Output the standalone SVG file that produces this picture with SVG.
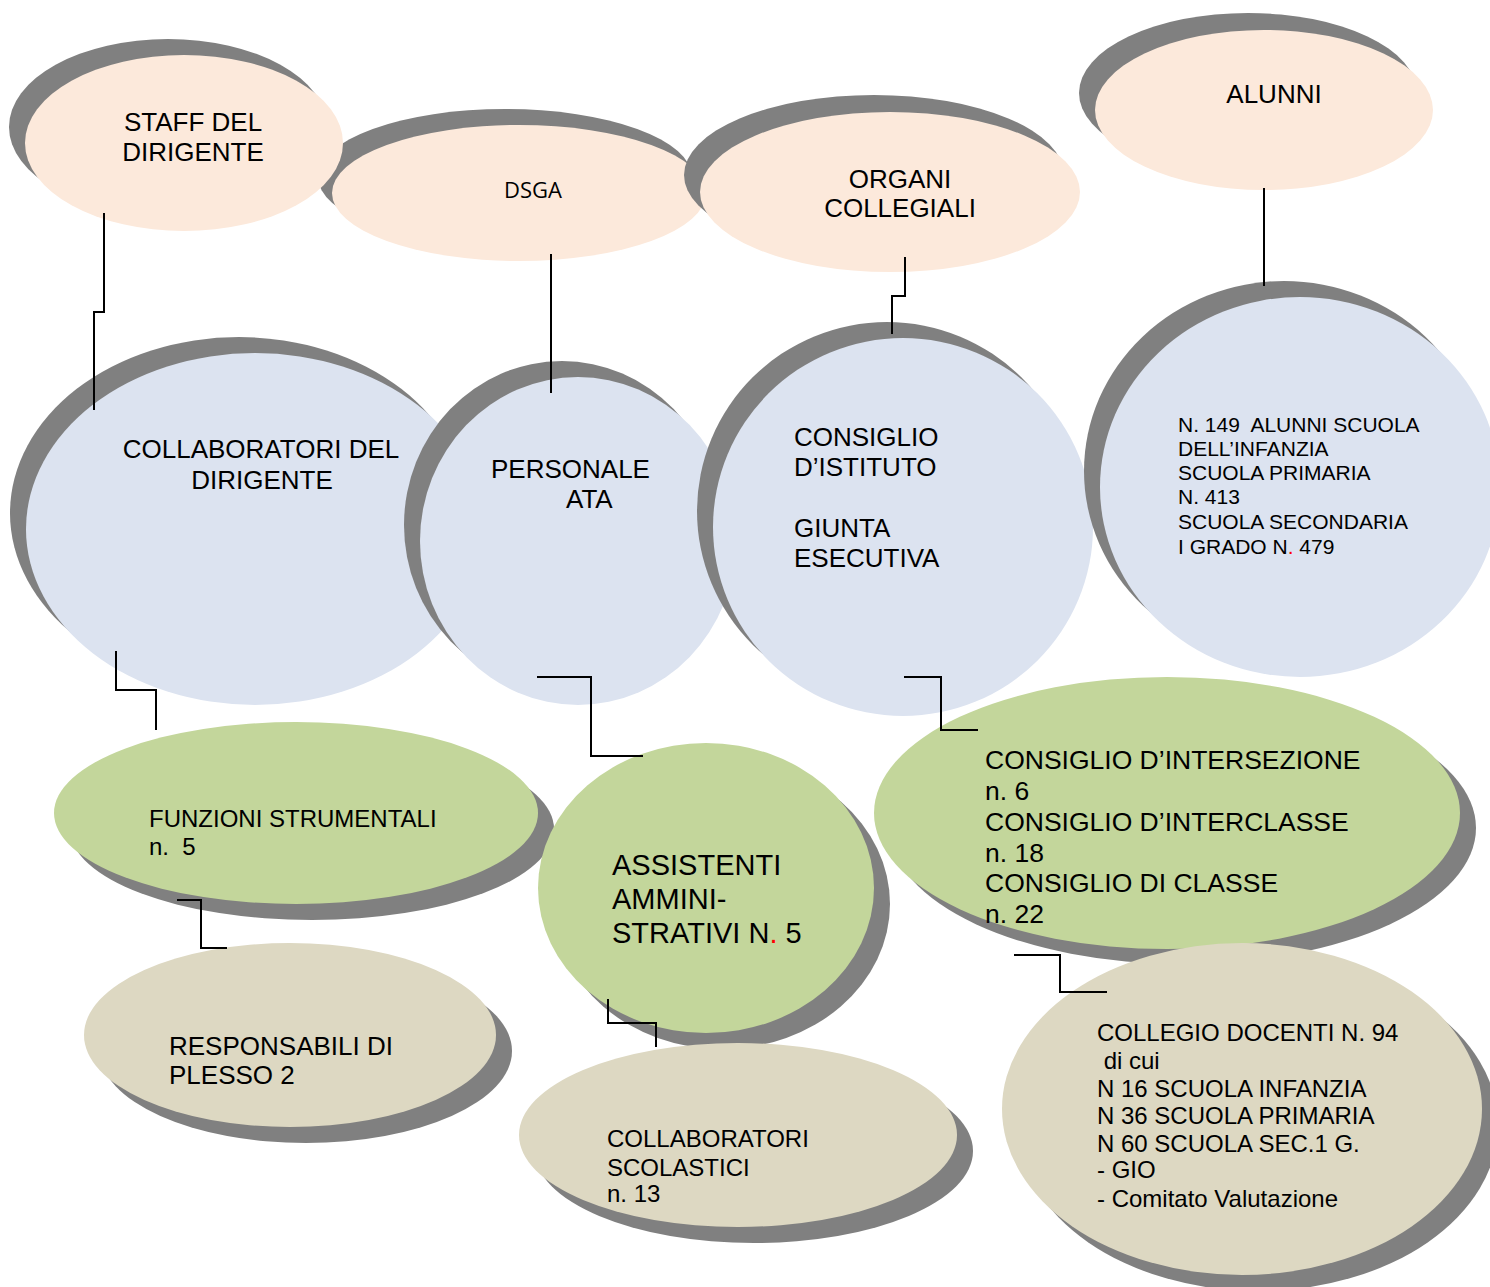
<svg xmlns="http://www.w3.org/2000/svg" width="1490" height="1287" viewBox="0 0 1490 1287">
<style>
.sh{fill:#808080}
.pe{fill:#FCE9DB}
.bl{fill:#DCE3F0}
.gr{fill:#C3D69B}
.tn{fill:#DDD8C2}
text{font-family:"Liberation Sans",Arial,sans-serif;fill:#000;white-space:pre}
.c{stroke:#000;stroke-width:2;fill:none}
.red{fill:#FF0000}
</style>
<rect width="1490" height="1287" fill="#fff"/>
<g id="node-dsga">
<ellipse class="sh" cx="505" cy="177" rx="187" ry="68"/>
<ellipse class="pe" cx="519" cy="193" rx="187" ry="68"/>
<text x="533" y="198" font-size="22" text-anchor="middle" style="font-family:'Open Sans','Noto Sans',sans-serif">DSGA</text>
</g>
<g id="node-staff">
<ellipse class="sh" cx="168" cy="127" rx="159" ry="88"/>
<ellipse class="pe" cx="184" cy="143" rx="159" ry="88"/>
<text font-size="26" text-anchor="middle"><tspan x="193" y="131">STAFF DEL</tspan><tspan x="193" y="161">DIRIGENTE</tspan></text>
</g>
<g id="node-organi">
<ellipse class="sh" cx="874" cy="175" rx="190" ry="80"/>
<ellipse class="pe" cx="890" cy="192" rx="190" ry="80"/>
<text font-size="26" text-anchor="middle"><tspan x="900" y="188">ORGANI</tspan><tspan x="900" y="217">COLLEGIALI</tspan></text>
</g>
<g id="node-alunni">
<ellipse class="sh" cx="1248" cy="93" rx="169" ry="80"/>
<ellipse class="pe" cx="1264" cy="110" rx="169" ry="80"/>
<text x="1274" y="103" font-size="26" text-anchor="middle">ALUNNI</text>
</g>
<g id="node-collaboratori-dirigente">
<ellipse class="sh" cx="239" cy="513" rx="229" ry="176"/>
<ellipse class="bl" cx="255" cy="529" rx="229" ry="176"/>
<text font-size="26" text-anchor="middle"><tspan x="261" y="458">COLLABORATORI DEL</tspan><tspan x="262" y="489">DIRIGENTE</tspan></text>
</g>
<g id="node-personale-ata">
<ellipse class="sh" cx="562" cy="525" rx="158" ry="164"/>
<ellipse class="bl" cx="578" cy="541" rx="158" ry="164"/>
<text font-size="26"><tspan x="491" y="478">PERSONALE</tspan><tspan x="566" y="508">ATA</tspan></text>
</g>
<g id="node-consiglio-istituto">
<ellipse class="sh" cx="887" cy="511" rx="190" ry="189"/>
<ellipse class="bl" cx="903" cy="527" rx="190" ry="189"/>
<text font-size="26"><tspan x="794" y="446">CONSIGLIO</tspan><tspan x="794" y="476">D’ISTITUTO</tspan><tspan x="794" y="537">GIUNTA</tspan><tspan x="794" y="567">ESECUTIVA</tspan></text>
</g>
<g id="node-alunni-numeri">
<ellipse class="sh" cx="1284" cy="471" rx="200" ry="190"/>
<ellipse class="bl" cx="1300" cy="487" rx="200" ry="190"/>
<text font-size="21"><tspan x="1178" y="432">N. 149  ALUNNI SCUOLA</tspan><tspan x="1178" y="456">DELL’INFANZIA</tspan><tspan x="1178" y="480">SCUOLA PRIMARIA</tspan><tspan x="1178" y="504">N. 413</tspan><tspan x="1178" y="529">SCUOLA SECONDARIA</tspan><tspan x="1178" y="554">I GRADO N<tspan class="red">.</tspan> 479</tspan></text>
</g>
<g id="node-funzioni">
<ellipse class="sh" cx="312" cy="829" rx="242" ry="91"/>
<ellipse class="gr" cx="296" cy="813" rx="242" ry="91"/>
<text font-size="24"><tspan x="149" y="827">FUNZIONI STRUMENTALI</tspan><tspan x="149" y="855">n.  5</tspan></text>
</g>
<g id="node-assistenti">
<ellipse class="sh" cx="722" cy="904" rx="168" ry="145"/>
<ellipse class="gr" cx="706" cy="888" rx="168" ry="145"/>
<text font-size="29"><tspan x="612" y="875">ASSISTENTI</tspan><tspan x="612" y="909">AMMINI-</tspan><tspan x="612" y="943">STRATIVI N<tspan class="red">.</tspan> 5</tspan></text>
</g>
<g id="node-consigli">
<ellipse class="sh" cx="1183" cy="828" rx="293" ry="136"/>
<ellipse class="gr" cx="1167" cy="813" rx="293" ry="136"/>
<text font-size="26.5"><tspan x="985" y="769">CONSIGLIO D’INTERSEZIONE</tspan><tspan x="985" y="800">n. 6</tspan><tspan x="985" y="831">CONSIGLIO D’INTERCLASSE</tspan><tspan x="985" y="862">n. 18</tspan><tspan x="985" y="892">CONSIGLIO DI CLASSE</tspan><tspan x="985" y="923">n. 22</tspan></text>
</g>
<g id="node-responsabili">
<ellipse class="sh" cx="306" cy="1051" rx="206" ry="92"/>
<ellipse class="tn" cx="290" cy="1035" rx="206" ry="92"/>
<text font-size="26"><tspan x="169" y="1055">RESPONSABILI DI</tspan><tspan x="169" y="1084">PLESSO 2</tspan></text>
</g>
<g id="node-collaboratori-scolastici">
<ellipse class="sh" cx="754" cy="1151" rx="219" ry="92"/>
<ellipse class="tn" cx="738" cy="1135" rx="219" ry="92"/>
<text font-size="24"><tspan x="607" y="1147">COLLABORATORI</tspan><tspan x="607" y="1176">SCOLASTICI</tspan><tspan x="607" y="1202">n. 13</tspan></text>
</g>
<g id="node-collegio">
<ellipse class="sh" cx="1258" cy="1125" rx="240" ry="166"/>
<ellipse class="tn" cx="1242" cy="1109" rx="240" ry="166"/>
<text font-size="24"><tspan x="1097" y="1041">COLLEGIO DOCENTI N. 94</tspan><tspan x="1097" y="1069"> di cui</tspan><tspan x="1097" y="1097">N 16 SCUOLA INFANZIA</tspan><tspan x="1097" y="1124">N 36 SCUOLA PRIMARIA</tspan><tspan x="1097" y="1152">N 60 SCUOLA SEC.1 G.</tspan><tspan x="1097" y="1178">- GIO</tspan><tspan x="1097" y="1207">- Comitato Valutazione</tspan></text>
</g>
<g id="connectors">
<path class="c" d="M104,213 V312 H94 V410"/>
<path class="c" d="M551,254 V393"/>
<path class="c" d="M905,257 V296 H892 V334"/>
<path class="c" d="M1264,188 V286"/>
<path class="c" d="M116,651 V690 H156 V730"/>
<path class="c" d="M537,677 H591 V756 H643"/>
<path class="c" d="M904,677 H941 V730 H978"/>
<path class="c" d="M177,900 H201 V948 H227"/>
<path class="c" d="M608,999 V1023 H656 V1047"/>
<path class="c" d="M1014,955 H1060 V992 H1107"/>
</g>
</svg>
